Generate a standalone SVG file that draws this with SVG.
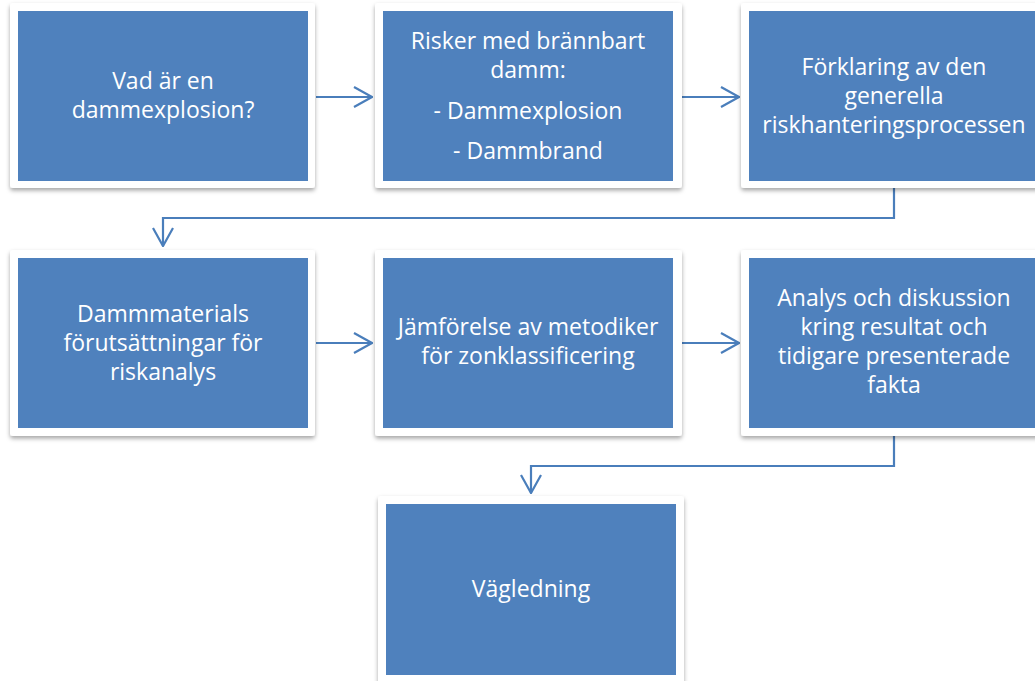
<svg xmlns="http://www.w3.org/2000/svg" width="1035" height="681" viewBox="0 0 1035 681">
  <defs>
    <filter id="shadow" x="-10%" y="-10%" width="120%" height="125%">
      <feDropShadow dx="0" dy="2.5" stdDeviation="2.2" flood-color="#000" flood-opacity="0.35"/>
    </filter>
    <marker id="open" viewBox="0 0 20 22" refX="19" refY="11" markerWidth="20" markerHeight="22" markerUnits="userSpaceOnUse" orient="auto">
      <path d="M1,1 L19,11 L1,21" fill="none" stroke="#4A7EBB" stroke-width="2.2"/>
    </marker>
    <style>
      .card { fill: #ffffff; filter: url(#shadow); }
      .box { fill: #4F81BD; }
      .lbl { fill: #ffffff; font-family: "Open Sans", "Noto Sans", sans-serif; font-size: 23px; text-anchor: middle; }
      .conn { fill: none; stroke: #4A7EBB; stroke-width: 2.2; marker-end: url(#open); }
    </style>
  </defs>

  <g id="connectors">
    <path class="conn" d="M316,97 H372"/>
    <path class="conn" d="M682,97 H739"/>
    <path class="conn" d="M894,188 V218 H163 V246"/>
    <path class="conn" d="M316,343 H372"/>
    <path class="conn" d="M682,343 H739"/>
    <path class="conn" d="M894,436 V466 H531 V493"/>
  </g>

  <g id="node-dammexplosion">
    <rect class="card" x="10" y="3" width="305" height="185" rx="3"/>
    <rect class="box" x="18" y="11" width="290" height="170"/>
    <text class="lbl"><tspan x="163" y="89">Vad är en</tspan><tspan x="163" y="118">dammexplosion?</tspan></text>
  </g>

  <g id="node-risker">
    <rect class="card" x="375" y="3" width="307" height="185" rx="3"/>
    <rect class="box" x="383" y="11" width="290" height="170"/>
    <text class="lbl"><tspan x="528" y="49">Risker med brännbart</tspan><tspan x="528" y="78">damm:</tspan><tspan x="528" y="119">- Dammexplosion</tspan><tspan x="528" y="159">- Dammbrand</tspan></text>
  </g>

  <g id="node-forklaring">
    <rect class="card" x="741" y="3" width="306" height="185" rx="3"/>
    <rect class="box" x="749" y="11" width="290" height="170"/>
    <text class="lbl"><tspan x="894" y="75">Förklaring av den</tspan><tspan x="894" y="104">generella</tspan><tspan x="894" y="133">riskhanteringsprocessen</tspan></text>
  </g>

  <g id="node-dammmaterials">
    <rect class="card" x="10" y="250" width="305" height="186" rx="3"/>
    <rect class="box" x="18" y="258" width="290" height="170"/>
    <text class="lbl"><tspan x="163" y="322">Dammmaterials</tspan><tspan x="163" y="351">förutsättningar för</tspan><tspan x="163" y="380">riskanalys</tspan></text>
  </g>

  <g id="node-jamforelse">
    <rect class="card" x="375" y="250" width="307" height="186" rx="3"/>
    <rect class="box" x="383" y="258" width="290" height="170"/>
    <text class="lbl"><tspan x="528" y="335">Jämförelse av metodiker</tspan><tspan x="528" y="364">för zonklassificering</tspan></text>
  </g>

  <g id="node-analys">
    <rect class="card" x="741" y="250" width="306" height="186" rx="3"/>
    <rect class="box" x="749" y="258" width="290" height="170"/>
    <text class="lbl"><tspan x="894" y="306">Analys och diskussion</tspan><tspan x="894" y="335">kring resultat och</tspan><tspan x="894" y="364">tidigare presenterade</tspan><tspan x="894" y="393">fakta</tspan></text>
  </g>

  <g id="node-vagledning">
    <rect class="card" x="378" y="496" width="306" height="192" rx="3"/>
    <rect class="box" x="386" y="504" width="290" height="171"/>
    <text class="lbl"><tspan x="531" y="597">Vägledning</tspan></text>
  </g>
</svg>
